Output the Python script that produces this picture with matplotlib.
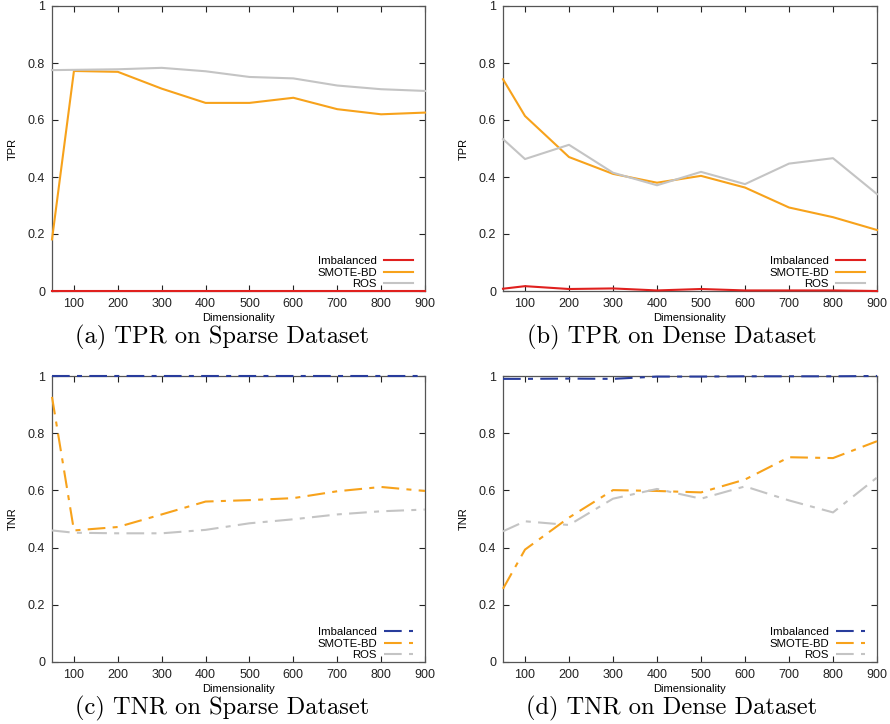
import matplotlib
matplotlib.use("Agg")
import matplotlib.pyplot as plt

plt.rcParams['font.family'] = ['Liberation Sans', 'DejaVu Sans']

dims = [50, 100, 200, 300, 400, 500, 600, 700, 800, 900]
xticks = [100, 200, 300, 400, 500, 600, 700, 800, 900]
yticks = [0, 0.2, 0.4, 0.6, 0.8, 1]
ytick_labels = ["0", "0.2", "0.4", "0.6", "0.8", "1"]
series_names = ["Imbalanced", "SMOTE-BD", "ROS"]

# (a) TPR sparse
tpr_sparse_imb = [0, 0, 0, 0, 0, 0, 0, 0, 0, 0]
tpr_sparse_smote = [0.181, 0.772, 0.769, 0.710, 0.660, 0.660, 0.678, 0.638, 0.620, 0.626]
tpr_sparse_ros = [0.775, 0.776, 0.778, 0.783, 0.771, 0.751, 0.746, 0.721, 0.708, 0.702]

# (b) TPR dense
tpr_dense_imb = [0.008, 0.017, 0.007, 0.009, 0.002, 0.007, 0.002, 0.002, 0.002, 0.0]
tpr_dense_smote = [0.743, 0.614, 0.470, 0.411, 0.380, 0.404, 0.363, 0.293, 0.259, 0.214]
tpr_dense_ros = [0.533, 0.463, 0.513, 0.415, 0.371, 0.418, 0.375, 0.447, 0.466, 0.340]

# (c) TNR sparse
tnr_sparse_imb = [1.0, 1.0, 1.0, 1.0, 1.0, 1.0, 1.0, 1.0, 1.0, 1.0]
tnr_sparse_smote = [0.927, 0.460, 0.472, 0.516, 0.561, 0.566, 0.573, 0.597, 0.612, 0.598]
tnr_sparse_ros = [0.460, 0.452, 0.450, 0.450, 0.462, 0.485, 0.499, 0.516, 0.527, 0.533]

# (d) TNR dense
tnr_dense_imb = [0.990, 0.990, 0.991, 0.990, 0.998, 0.998, 0.999, 0.999, 0.999, 1.0]
tnr_dense_smote = [0.256, 0.393, 0.505, 0.601, 0.598, 0.593, 0.638, 0.716, 0.713, 0.772]
tnr_dense_ros = [0.457, 0.492, 0.479, 0.571, 0.605, 0.571, 0.614, 0.565, 0.523, 0.645]

captions = ["(a) TPR on Sparse Dataset", "(b) TPR on Dense Dataset",
            "(c) TNR on Sparse Dataset", "(d) TNR on Dense Dataset"]
ylabels = ["TPR", "TPR", "TNR", "TNR"]

tpr_colors = ["#e0201e", "#f7a21b", "#c4c4c4"]
tnr_colors = ["#283c9c", "#f7a21b", "#c4c4c4"]

W, H = 890, 724
fig = plt.figure(figsize=(W / 100, H / 100), dpi=100)

boxes = [(52, 6, 425, 291), (503, 6, 877, 291), (52, 376, 425, 662), (503, 376, 877, 662)]
data = [
    (tpr_sparse_imb, tpr_sparse_smote, tpr_sparse_ros),
    (tpr_dense_imb, tpr_dense_smote, tpr_dense_ros),
    (tnr_sparse_imb, tnr_sparse_smote, tnr_sparse_ros),
    (tnr_dense_imb, tnr_dense_smote, tnr_dense_ros),
]
caption_x = [222, 672, 222, 672]
caption_y = [337, 337, 708, 708]

dashdot = (0, (8.5, 3.5, 2.4, 3.5))

for i, (box, series) in enumerate(zip(boxes, data)):
    l, t, r, b = box
    ax = fig.add_axes([l / W, 1 - b / H, (r - l) / W, (b - t) / H])
    tnr = i >= 2
    colors = tnr_colors if tnr else tpr_colors
    for name, vals, c in zip(series_names, series, colors):
        ax.plot(dims, vals, color=c, lw=1.5, label=name,
                linestyle=dashdot if tnr else '-', clip_on=False, zorder=3)
    ax.set_xlim(50, 900)
    ax.set_ylim(0, 1)
    ax.set_xticks(xticks)
    ax.set_xticklabels([str(v) for v in xticks])
    ax.set_yticks(yticks)
    ax.set_yticklabels(ytick_labels)
    ax.tick_params(direction='in', top=True, right=True, length=4, width=0.8,
                   labelsize=9, pad=5, colors='#222222')
    for s in ax.spines.values():
        s.set_color('#555555')
        s.set_linewidth(0.9)
    ax.set_xlabel("Dimensionality", fontsize=8, labelpad=2)
    ax.set_ylabel(ylabels[i], fontsize=8, labelpad=7.5)
    leg = ax.legend(loc='lower right', frameon=False, markerfirst=False,
                    fontsize=8.2, handlelength=2.55, labelspacing=0.15,
                    handletextpad=0.6, borderaxespad=0.0,
                    bbox_to_anchor=(0.98, -0.01))
    for txt in leg.get_texts():
        txt.set_ha('right')
    fig.text(caption_x[i] / W, 1 - caption_y[i] / H, captions[i],
             family='cmr10', fontsize=17.6, ha='center', va='center')

fig.savefig("out.png", dpi=100)
